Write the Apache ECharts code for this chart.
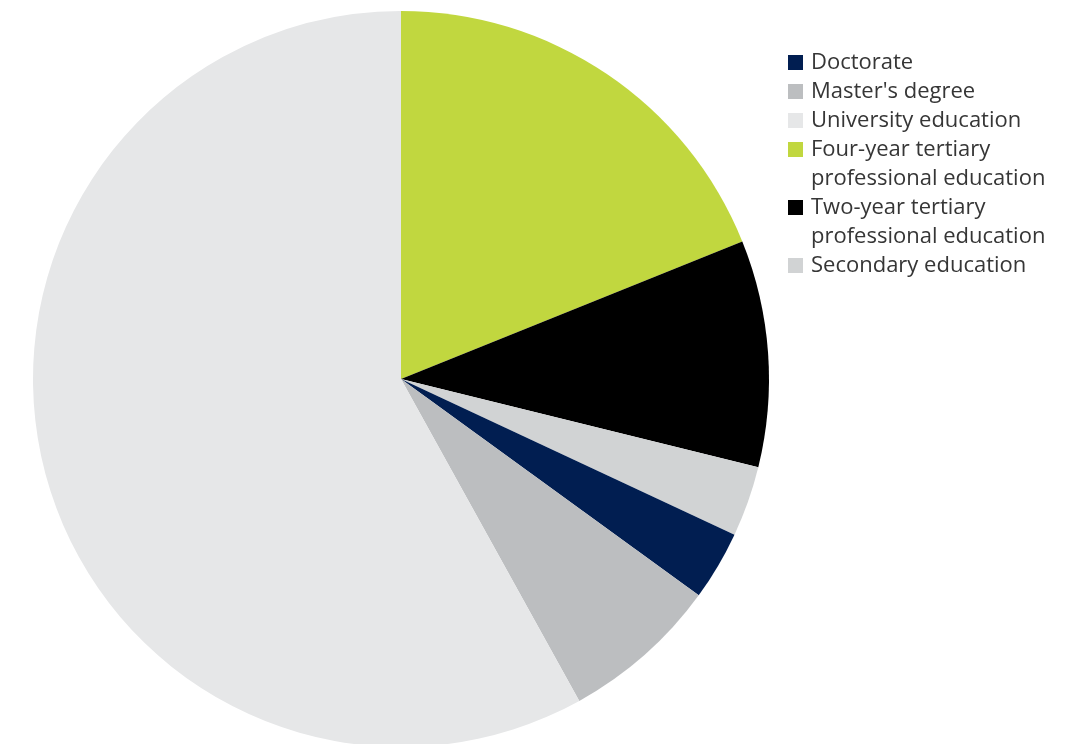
<!DOCTYPE html>
<html>
<head>
<meta charset="utf-8">
<style>
  html, body { margin: 0; padding: 0; background: #ffffff; }
  #chart { width: 1087px; height: 744px; }
</style>
<script src="https://cdn.jsdelivr.net/npm/echarts@6/dist/echarts.min.js"></script>
</head>
<body>
<div id="chart"></div>
<script>
// Education levels, in the clockwise order the slices are drawn from 12 o'clock
const categories = [
  'Four-year tertiary\nprofessional education',
  'Two-year tertiary\nprofessional education',
  'Secondary education',
  'Doctorate',
  "Master's degree",
  'University education'
];
// Share of each level (%)
const shares = [18.9, 9.95, 3.1, 3.05, 6.95, 58.05];
const colors = ['#c1d73f', '#000000', '#d1d3d4', '#011e51', '#bcbec0', '#e6e7e8'];

// Legend listing order
const legendOrder = [
  'Doctorate',
  "Master's degree",
  'University education',
  'Four-year tertiary\nprofessional education',
  'Two-year tertiary\nprofessional education',
  'Secondary education'
];

const chart = echarts.init(document.getElementById('chart'), null, { renderer: 'canvas' });

const baseText = {
  fontFamily: 'Open Sans',
  fontSize: 22,
  lineHeight: 29,
  color: '#363636',
  padding: [0, 0, 0, 3]
};

// Two-line entries get an empty leading line so the swatch sits beside the first line
function legendBlock(names, top, multiLine) {
  return {
    show: true,
    orient: 'vertical',
    left: 788,
    top: top,
    padding: 0,
    itemGap: 0,
    itemWidth: 15,
    itemHeight: 15,
    icon: 'rect',
    selectedMode: false,
    data: names,
    formatter: multiLine ? (name) => '\n' + name : (name) => name,
    textStyle: baseText
  };
}

const option = {
  animation: false,
  backgroundColor: '#ffffff',
  color: colors,
  legend: [
    legendBlock(legendOrder.slice(0, 3), 48, false),
    legendBlock([legendOrder[3]], 106, true),
    legendBlock([legendOrder[4]], 164, true),
    legendBlock([legendOrder[5]], 251, false)
  ],
  series: [{
    type: 'pie',
    center: [401, 379],
    radius: 368,
    startAngle: 90,
    clockwise: true,
    avoidLabelOverlap: false,
    label: { show: false },
    labelLine: { show: false },
    emphasis: { disabled: true },
    itemStyle: { borderWidth: 0 },
    data: categories.map((name, i) => ({
      name: name,
      value: shares[i],
      itemStyle: { color: colors[i] }
    }))
  }]
};

chart.setOption(option);
</script>
</body>
</html>
